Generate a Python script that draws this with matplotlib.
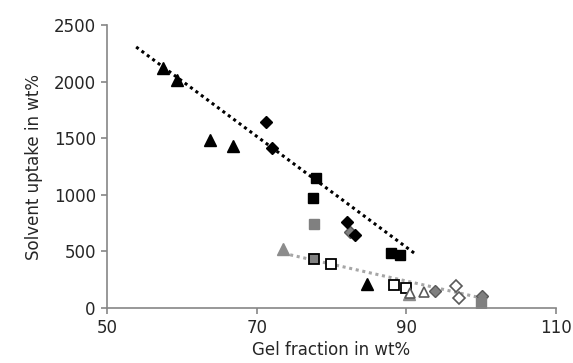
import matplotlib
matplotlib.use("Agg")
import matplotlib.pyplot as plt

# Data series (gel fraction wt%, solvent uptake wt%)
tri_black_x = [57.5, 59.4, 63.7, 66.8, 84.7]
tri_black_y = [2120, 2014, 1484, 1431, 210]
dia_black_x = [71.2, 72.0, 82.1, 83.2]
dia_black_y = [1640, 1411, 757, 645]
sq_black_x = [77.9, 77.5, 87.9, 89.2]
sq_black_y = [1146, 969, 489, 468]
sq_grey_x = [77.6, 100.0]
sq_grey_y = [742, 45]
tri_grey_x = [73.5, 90.3]
tri_grey_y = [519, 120]
sq_greyedge_x = [77.6]
sq_greyedge_y = [433]
sq_open_x = [79.9, 88.3, 89.9]
sq_open_y = [386, 206, 179]
tri_open_x = [90.5, 92.3]
tri_open_y = [130, 144]
dia_grey_x = [82.5, 93.9, 100.1]
dia_grey_y = [674, 153, 106]
dia_open_x = [96.7, 97.1]
dia_open_y = [194, 86]

trend1_x = [53.9, 91.1]
trend1_y = [2306, 483]
trend2_x = [73.6, 100.8]
trend2_y = [483, 77]

xticks = [50, 70, 90, 110]
yticks = [0, 500, 1000, 1500, 2000, 2500]

fig = plt.figure(figsize=(5.73, 3.63), dpi=100)
ax = fig.add_axes([0.1867, 0.1515, 0.7836, 0.7796])

ax.plot(trend2_x, trend2_y, linestyle=(0, (1, 1.2)), color="#a6a6a6", lw=2.2, zorder=1)
ax.plot(trend1_x, trend1_y, linestyle=(0, (1, 1.2)), color="black", lw=2.2, zorder=1)

grey = "#808080"
ax.plot(tri_grey_x, tri_grey_y, "^", color="#8c8c8c", ms=8, ls="none", zorder=2)
ax.plot(dia_grey_x, dia_grey_y, "D", mfc="#7f7f7f", mec="#595959", ms=6, ls="none", zorder=2)
ax.plot(sq_grey_x, sq_grey_y, "s", color=grey, ms=6.5, ls="none", zorder=2)
ax.plot(tri_black_x, tri_black_y, "^", color="black", ms=8, ls="none", zorder=3)
ax.plot(dia_black_x, dia_black_y, "D", color="black", ms=6.5, ls="none", zorder=3)
ax.plot(sq_black_x, sq_black_y, "s", color="black", ms=6.5, ls="none", zorder=3)
ax.plot(sq_greyedge_x, sq_greyedge_y, "s", mfc=grey, mec="black", mew=1.3, ms=6.5, ls="none", zorder=3)
ax.plot(sq_open_x, sq_open_y, "s", mfc="white", mec="black", mew=1.3, ms=6.5, ls="none", zorder=3)
ax.plot(tri_open_x, tri_open_y, "^", mfc="white", mec="#595959", mew=1.2, ms=7.5, ls="none", zorder=3)
ax.plot(dia_open_x, dia_open_y, "D", mfc="white", mec="#595959", mew=1.2, ms=6, ls="none", zorder=3)

ax.set_xlim(50, 110)
ax.set_ylim(0, 2500)
ax.set_xticks(xticks)
ax.set_yticks(yticks)

for s in ["top", "right"]:
    ax.spines[s].set_visible(False)
for s in ["left", "bottom"]:
    ax.spines[s].set_color("#868686")
    ax.spines[s].set_linewidth(1.2)
ax.tick_params(axis="both", colors="#868686", labelcolor="#262626", labelsize=12,
               length=4, width=1.2, direction="out", pad=4)
ax.set_xlabel("Gel fraction in wt%", fontsize=12, color="#262626", labelpad=3)
ax.set_ylabel("Solvent uptake in wt%", fontsize=12, color="#262626", labelpad=8)

fig.savefig("out.png", dpi=100)
